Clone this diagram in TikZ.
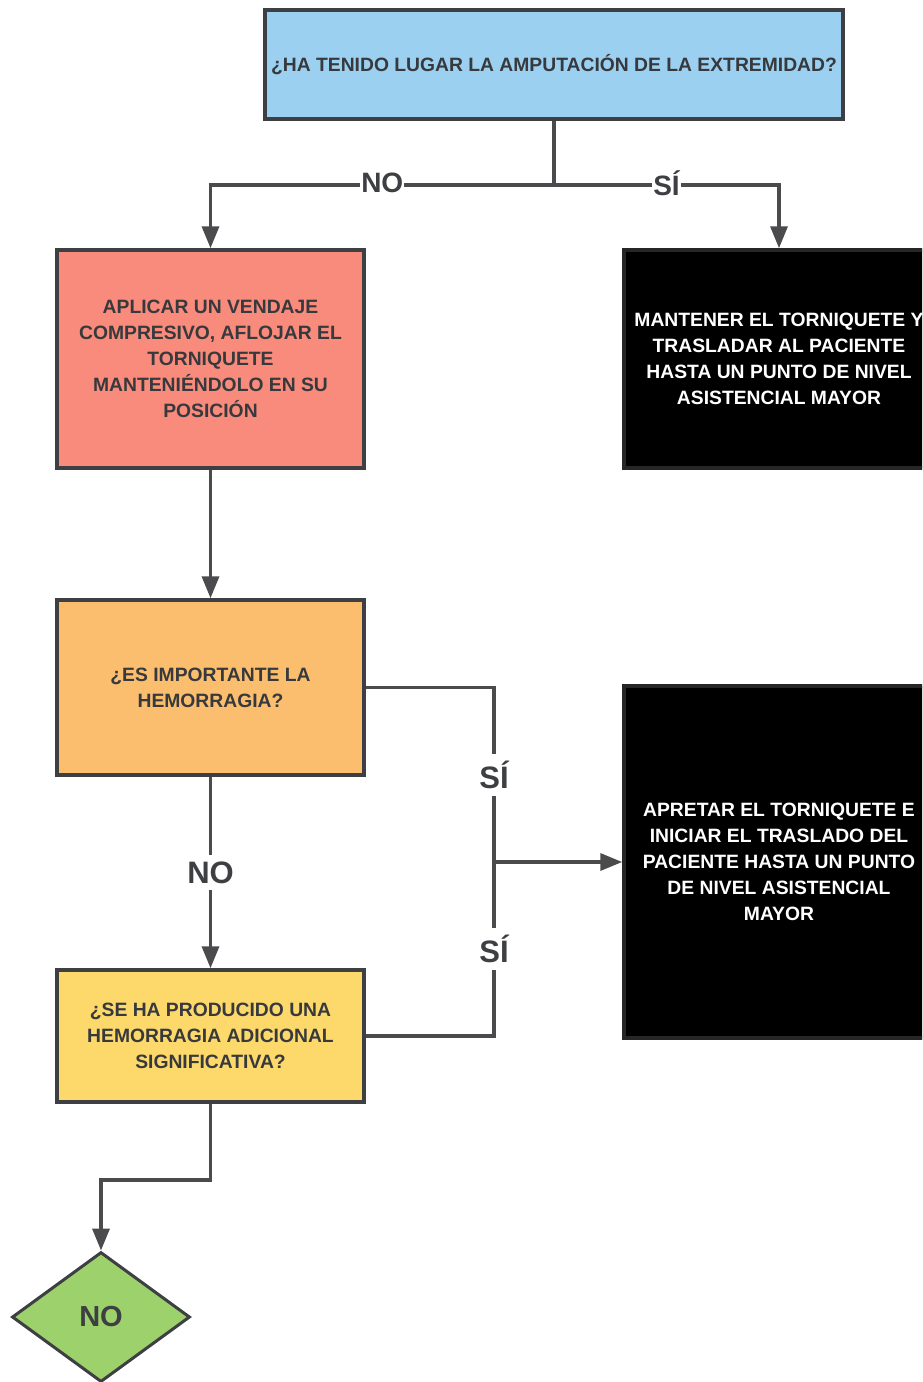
\documentclass[tikz,border=0pt]{standalone}
\usepackage{fontspec}
\setmainfont{Liberation Sans}
\usetikzlibrary{arrows.meta,shapes.geometric}
\definecolor{ink}{HTML}{3D3F43}
\definecolor{wire}{HTML}{4B4B4D}
\definecolor{skyfill}{HTML}{9BD0F1}
\definecolor{salmon}{HTML}{F88B7C}
\definecolor{apricot}{HTML}{FBBE6E}
\definecolor{butter}{HTML}{FDD96C}
\definecolor{leaf}{HTML}{9DD16B}

\begin{document}
\begin{tikzpicture}[x=1pt,y=-1pt,
  box/.style={draw=ink,line width=3.5pt,rectangle,inner sep=0pt,align=center,
    font=\fontsize{19.3}{26}\selectfont\bfseries,text=ink!90!black},
  dark/.style={box,fill=black,draw=black!85,text=white},
  conn/.style={draw=wire,line width=3.5pt},
  arr/.style={conn,-{Triangle[length=22pt,width=17pt]}},
  lbl/.style={fill=white,text=ink,inner xsep=1pt,inner ysep=7pt,
    font=\fontsize{31}{31}\selectfont\bfseries},
  toplbl/.style={lbl,font=\fontsize{28}{28}\selectfont\bfseries}]
   \useasboundingbox (0,0) rectangle (922,1382);
   \clip (0,0) rectangle (922,1382);
   \node[box,fill=skyfill,minimum width=578pt,minimum height=109pt] (amput) at (554,64.5)
      {¿HA TENIDO LUGAR LA AMPUTACIÓN DE LA EXTREMIDAD?};
   \node[box,fill=salmon,minimum width=307pt,minimum height=218pt] (bandage) at (210.5,359)
      {APLICAR UN VENDAJE\\COMPRESIVO, AFLOJAR EL\\TORNIQUETE\\MANTENIÉNDOLO EN SU\\POSICIÓN};
   \node[dark,minimum width=310pt,minimum height=218pt] (keep) at (779,359)
      {MANTENER EL TORNIQUETE Y\\TRASLADAR AL PACIENTE\\HASTA UN PUNTO DE NIVEL\\ASISTENCIAL MAYOR};
   \node[box,fill=apricot,minimum width=307pt,minimum height=175pt] (bleed) at (210.5,687.5)
      {¿ES IMPORTANTE LA\\HEMORRAGIA?};
   \node[dark,minimum width=310pt,minimum height=352pt] (tighten) at (779,862)
      {APRETAR EL TORNIQUETE E\\INICIAR EL TRASLADO DEL\\PACIENTE HASTA UN PUNTO\\DE NIVEL ASISTENCIAL\\MAYOR};
   \node[box,fill=butter,minimum width=307pt,minimum height=132pt] (extra) at (210.5,1036)
      {¿SE HA PRODUCIDO UNA\\HEMORRAGIA ADICIONAL\\SIGNIFICATIVA?};
   \node[draw=ink,line width=3pt,fill=leaf,shape=diamond,inner sep=0pt,
      minimum width=178pt,minimum height=130pt,text=ink,
      font=\fontsize{29}{29}\selectfont\bfseries] (nobleed) at (101,1317) {NO};
   \coordinate (fork) at (554,185);
   \coordinate (bus) at (494,862);
   \draw[conn] (amput.south) -- (fork);
   \draw[arr] (fork) -| node[toplbl,pos=0.25,yshift=2pt] (noamput) {NO} (bandage.north);
   \draw[arr] (fork) -| node[toplbl,pos=0.25,yshift=2pt] (siamput) {SÍ} (keep.north);
   \draw[arr] (bandage.south) -- (bleed.north);
   \draw[arr] (bleed.south) -- node[lbl] (nobleedlbl) {NO} (extra.north);
   \draw[conn] (bleed.east) -| node[lbl,pos=0.75] (sibleed) {SÍ} (bus);
   \draw[conn] (extra.east) -| node[lbl,pos=0.75] (siextra) {SÍ} (bus);
   \draw[arr] (bus) -- (tighten.west);
   \draw[arr] (extra.south) -- ++(0,76) -| (nobleed.north);
  \end{tikzpicture}
\end{document}
